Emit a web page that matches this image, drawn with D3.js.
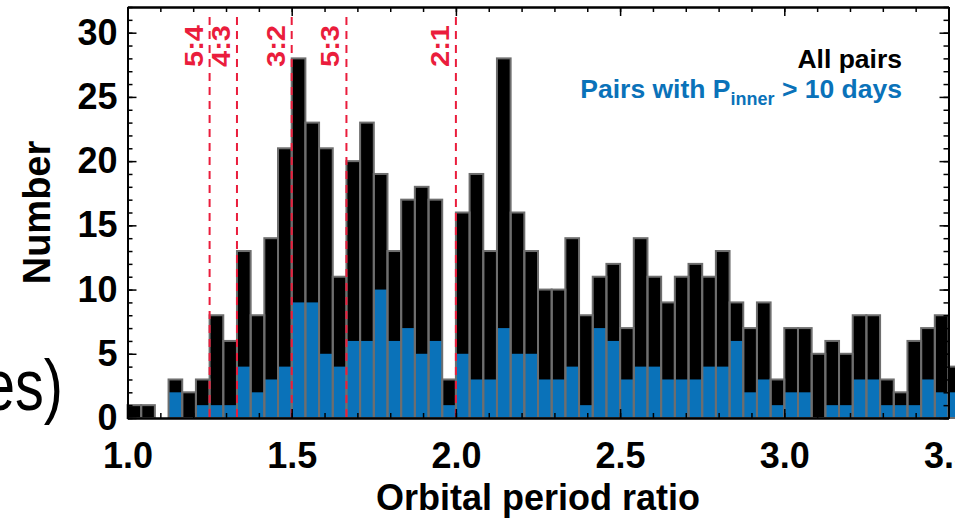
<!DOCTYPE html>
<html>
<head>
<meta charset="utf-8">
<script src="https://cdn.jsdelivr.net/npm/d3@7"></script>
<style>
  body { margin: 0; background: #fff; }
  svg { display: block; font-family: "Liberation Sans", Arial, sans-serif; }
</style>
</head>
<body>
<div id="chart"></div>
<script>
// histogram bins of width 1/24 starting at ratio 1.0
var binStart = 1.0,
    binWidth = 1 / 24;

// counts per bin, all pairs
var allPairs = [1, 1, 0, 3, 2, 3, 8, 6, 13, 8, 14, 21, 28, 23, 21, 11, 20, 23, 19, 13,
                17, 18, 17, 3, 16, 19, 13, 28, 16, 13, 10, 10, 14, 8, 11, 12, 7, 14, 11, 9,
                11, 12, 11, 13, 9, 7, 9, 3, 7, 7, 5, 6, 5, 8, 8, 3, 2, 6, 7, 8, 4];

// counts per bin, pairs with P_inner > 10 days
var longPairs = [0, 0, 0, 2, 0, 1, 1, 1, 4, 2, 3, 4, 9, 9, 5, 4, 6, 6, 10, 6,
                 7, 5, 6, 1, 5, 3, 3, 7, 5, 5, 3, 3, 4, 1, 7, 6, 3, 4, 4, 3,
                 3, 3, 4, 4, 6, 2, 3, 1, 2, 2, 0, 1, 1, 3, 3, 1, 1, 1, 3, 2, 2];

var resonances = [5 / 4, 4 / 3, 3 / 2, 5 / 3, 2];
var resonanceLabels = ['5:4', '4:3', '3:2', '5:3', '2:1'];

var xTicks = [1.0, 1.5, 2.0, 2.5, 3.0, 3.5];
var yTicks = [0, 5, 10, 15, 20, 25, 30];

var width = 955, height = 518;
var plotLeft = 127.5, plotRight = 948.5, plotTop = 7, plotBottom = 418;
var blue = '#0a72b9', red = '#ea1d3c';

var x = d3.scaleLinear().domain([1.0, 3.5]).range([plotLeft, plotRight]);
var y = d3.scaleLinear().domain([0, 32]).range([plotBottom, plotTop]);

var svg = d3.select('#chart').append('svg')
    .attr('width', width)
    .attr('height', height);

svg.append('rect').attr('width', width).attr('height', height).attr('fill', '#fff');

var bins = allPairs.map(function(v, i) {
    return { x0: binStart + i * binWidth, x1: binStart + (i + 1) * binWidth, all: v, inner: longPairs[i] };
});

// black bars (all pairs)
svg.append('g').selectAll('rect')
    .data(bins)
    .enter().append('rect')
    .attr('x', function(d) { return x(d.x0); })
    .attr('width', function(d) { return x(d.x1) - x(d.x0); })
    .attr('y', function(d) { return y(d.all); })
    .attr('height', function(d) { return y(0) - y(d.all); })
    .attr('fill', '#000');

// blue bars
svg.append('g').selectAll('rect')
    .data(bins)
    .enter().append('rect')
    .attr('x', function(d) { return x(d.x0); })
    .attr('width', function(d) { return x(d.x1) - x(d.x0); })
    .attr('y', function(d) { return y(d.inner); })
    .attr('height', function(d) { return y(0) - y(d.inner); })
    .attr('fill', blue);

// grey outlines
svg.append('g').selectAll('rect')
    .data(bins.filter(function(d) { return d.all > 0; }))
    .enter().append('rect')
    .attr('x', function(d) { return x(d.x0); })
    .attr('width', function(d) { return x(d.x1) - x(d.x0); })
    .attr('y', function(d) { return y(d.all); })
    .attr('height', function(d) { return y(0) - y(d.all); })
    .attr('fill', 'none')
    .attr('stroke', '#6e6e6e')
    .attr('stroke-width', 2);

// resonance lines
var res = svg.append('g');
res.selectAll('line')
    .data(resonances)
    .enter().append('line')
    .attr('x1', function(d) { return x(d); })
    .attr('x2', function(d) { return x(d); })
    .attr('y1', 17)
    .attr('y2', plotBottom)
    .attr('stroke', red)
    .attr('stroke-width', 2)
    .attr('stroke-dasharray', '8,6');

res.selectAll('text')
    .data(resonances)
    .enter().append('text')
    .attr('transform', function(d) { return 'translate(' + (x(d) - 7) + ',25) rotate(-90)'; })
    .attr('text-anchor', 'end')
    .attr('font-size', 26)
    .attr('font-weight', 'bold')
    .attr('textLength', 42)
    .attr('lengthAdjust', 'spacingAndGlyphs')
    .attr('fill', red)
    .text(function(d, i) { return resonanceLabels[i]; });

// axes
function style(g) {
    g.select('.domain').attr('stroke-width', 2);
    g.selectAll('.tick line').attr('stroke-width', 1.5);
}

var xMinor = d3.range(10, 36).map(function(d) { return d / 10; });
var yMinor = d3.range(0, 33);

svg.append('g').attr('transform', 'translate(0,' + plotBottom + ')')
    .call(d3.axisBottom(x).tickValues(xMinor).tickSize(-5).tickSizeOuter(0).tickFormat(''))
    .call(style);
var xAxis = svg.append('g').attr('transform', 'translate(0,' + plotBottom + ')')
    .call(d3.axisBottom(x).tickValues(xTicks).tickSize(-9).tickSizeOuter(0)
        .tickPadding(24).tickFormat(d3.format('.1f')))
    .call(style);
xAxis.selectAll('text').attr('font-size', 36).attr('font-weight', 'bold')
    .attr('font-family', '"Liberation Sans", Arial, sans-serif');

svg.append('g').attr('transform', 'translate(0,' + plotTop + ')')
    .call(d3.axisTop(x).tickValues(xMinor).tickSize(-5).tickSizeOuter(0).tickFormat(''))
    .call(style);
svg.append('g').attr('transform', 'translate(0,' + plotTop + ')')
    .call(d3.axisTop(x).tickValues(xTicks).tickSize(-9).tickSizeOuter(0).tickFormat(''))
    .call(style);

svg.append('g').attr('transform', 'translate(' + plotLeft + ',0)')
    .call(d3.axisLeft(y).tickValues(yMinor).tickSize(-5).tickSizeOuter(0).tickFormat(''))
    .call(style);
var yAxis = svg.append('g').attr('transform', 'translate(' + plotLeft + ',0)')
    .call(d3.axisLeft(y).tickValues(yTicks).tickSize(-9).tickSizeOuter(0).tickPadding(10))
    .call(style);
yAxis.selectAll('text').attr('font-size', 36).attr('font-weight', 'bold')
    .attr('font-family', '"Liberation Sans", Arial, sans-serif');

svg.append('g').attr('transform', 'translate(' + plotRight + ',0)')
    .call(d3.axisRight(y).tickValues(yMinor).tickSize(-5).tickSizeOuter(0).tickFormat(''))
    .call(style);
svg.append('g').attr('transform', 'translate(' + plotRight + ',0)')
    .call(d3.axisRight(y).tickValues(yTicks).tickSize(-9).tickSizeOuter(0).tickFormat(''))
    .call(style);

// axis titles
svg.append('text')
    .attr('x', (plotLeft + plotRight) / 2)
    .attr('y', 510)
    .attr('text-anchor', 'middle')
    .attr('font-size', 36)
    .attr('font-weight', 'bold')
    .text('Orbital period ratio');

svg.append('text')
    .attr('transform', 'translate(50,' + ((plotTop + plotBottom) / 2) + ') rotate(-90)')
    .attr('text-anchor', 'middle')
    .attr('font-size', 38)
    .attr('font-weight', 'bold')
    .text('Number');

// legend
svg.append('text')
    .attr('x', 902).attr('y', 68)
    .attr('text-anchor', 'end')
    .attr('font-size', 26.5)
    .attr('font-weight', 'bold')
    .text('All pairs');

var leg = svg.append('text')
    .attr('x', 902).attr('y', 98)
    .attr('text-anchor', 'end')
    .attr('font-size', 26.5)
    .attr('font-weight', 'bold')
    .attr('fill', blue);
leg.append('tspan').text('Pairs with P');
leg.append('tspan').attr('font-size', 18).attr('dy', 7).text('inner');
leg.append('tspan').attr('dy', -7).text(' > 10 days');

// stray text from neighbouring panel
svg.append('text')
    .attr('transform', 'translate(63,410) scale(0.8,1)')
    .attr('text-anchor', 'end')
    .attr('font-size', 72)
    .text('es)');
</script>
</body>
</html>
